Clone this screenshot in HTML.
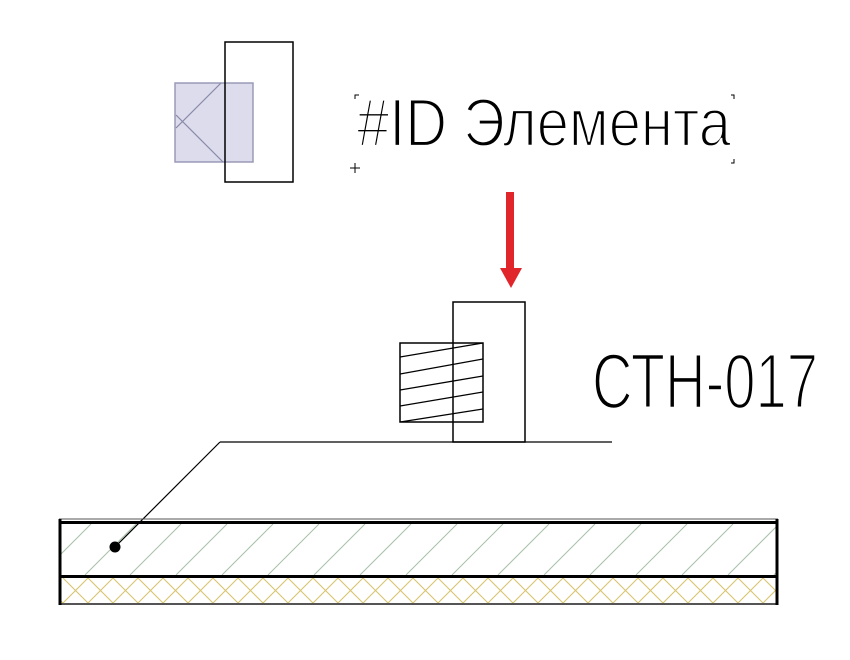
<!DOCTYPE html>
<html><head><meta charset="utf-8"><style>html,body{margin:0;padding:0;background:#fff}svg{display:block}</style></head>
<body>
<svg width="850" height="660" viewBox="0 0 850 660" xmlns="http://www.w3.org/2000/svg">
<defs>
<clipPath id="c1"><rect x="61" y="524" width="715" height="51"/></clipPath>
<clipPath id="c2"><rect x="61" y="578" width="715" height="25"/></clipPath>
<clipPath id="c3"><rect x="400" y="343" width="83" height="79"/></clipPath>
</defs>
<rect x="175" y="83" width="78" height="79" fill="#dcdcec" stroke="#9a9ab8" stroke-width="1.5"/>
<line x1="221" y1="83" x2="176" y2="128" stroke="#8a8aa8" stroke-width="1.2"/>
<line x1="176" y1="115" x2="223" y2="162" stroke="#8a8aa8" stroke-width="1.2"/>
<rect x="225" y="42" width="68" height="140" fill="none" stroke="#000" stroke-width="1.5"/>
<g stroke="#000" stroke-width="1" fill="none">
<path d="M355 99v-4h4M731 95h3v4M731 163h3v-4M350 168h10M355 163v10"/>
</g>
<text x="357" y="146" font-family="Liberation Sans, sans-serif" font-size="68" textLength="374" lengthAdjust="spacingAndGlyphs" fill="#000" stroke="#fff" stroke-width="2.2" paint-order="normal">#ID Элемента</text>
<rect x="506" y="192" width="8" height="77" fill="#e0262b"/>
<polygon points="500,268 522,268 511,288" fill="#e0262b"/>
<rect x="453" y="302" width="72" height="140" fill="none" stroke="#000" stroke-width="1.5"/>
<rect x="400" y="343" width="83" height="79" fill="none" stroke="#000" stroke-width="1.5"/>
<g clip-path="url(#c3)" stroke="#000" stroke-width="1.3">
<line x1="400" y1="357" x2="483" y2="343"/>
<line x1="400" y1="374" x2="483" y2="359"/>
<line x1="400" y1="390" x2="483" y2="376"/>
<line x1="400" y1="406" x2="483" y2="392"/>
<line x1="400" y1="422" x2="483" y2="409"/>
</g>
<text x="592" y="408" font-family="Liberation Sans, sans-serif" font-size="78" textLength="226" lengthAdjust="spacingAndGlyphs" fill="#000" stroke="#fff" stroke-width="2.5">СТН-017</text>
<line x1="220" y1="442" x2="612" y2="442" stroke="#000" stroke-width="1.3"/>
<line x1="220" y1="442" x2="115" y2="547" stroke="#000" stroke-width="1.2"/>
<g clip-path="url(#c1)" stroke="#a8c0a8" stroke-width="1">
<line x1="40" y1="575" x2="91" y2="524"/>
<line x1="85" y1="575" x2="136" y2="524"/>
<line x1="130" y1="575" x2="181" y2="524"/>
<line x1="176" y1="575" x2="227" y2="524"/>
<line x1="222" y1="575" x2="273" y2="524"/>
<line x1="268" y1="575" x2="319" y2="524"/>
<line x1="314" y1="575" x2="365" y2="524"/>
<line x1="360" y1="575" x2="411" y2="524"/>
<line x1="406" y1="575" x2="457" y2="524"/>
<line x1="452" y1="575" x2="503" y2="524"/>
<line x1="498" y1="575" x2="549" y2="524"/>
<line x1="544" y1="575" x2="595" y2="524"/>
<line x1="590" y1="575" x2="641" y2="524"/>
<line x1="636" y1="575" x2="687" y2="524"/>
<line x1="682" y1="575" x2="733" y2="524"/>
<line x1="728" y1="575" x2="779" y2="524"/>
<line x1="774" y1="575" x2="825" y2="524"/>
</g>
<g clip-path="url(#c2)" stroke="#d8c470" stroke-width="1.1" fill="none">
<path d="M63 578 L88 603 L113 578 L138 603 L163 578 L188 603 L213 578 L238 603 L263 578 L288 603 L313 578 L338 603 L363 578 L388 603 L413 578 L438 603 L463 578 L488 603 L513 578 L538 603 L563 578 L588 603 L613 578 L638 603 L663 578 L688 603 L713 578 L738 603 L763 578 L788 603"/>
<path d="M38 578 L63 603 L88 578 L113 603 L138 578 L163 603 L188 578 L213 603 L238 578 L263 603 L288 578 L313 603 L338 578 L363 603 L388 578 L413 603 L438 578 L463 603 L488 578 L513 603 L538 578 L563 603 L588 578 L613 603 L638 578 L663 603 L688 578 L713 603 L738 578 L763 603 L788 578"/>
</g>
<line x1="59" y1="519" x2="778" y2="519" stroke="#555" stroke-width="1"/>
<line x1="59" y1="522.5" x2="778" y2="522.5" stroke="#000" stroke-width="3"/>
<line x1="59" y1="576.5" x2="778" y2="576.5" stroke="#000" stroke-width="3"/>
<line x1="59" y1="604" x2="778" y2="604" stroke="#555" stroke-width="2"/>
<line x1="60" y1="519" x2="60" y2="605" stroke="#000" stroke-width="3"/>
<line x1="777" y1="519" x2="777" y2="605" stroke="#000" stroke-width="3"/>
<circle cx="115" cy="547" r="5.5" fill="#000"/>
</svg>
</body></html>
